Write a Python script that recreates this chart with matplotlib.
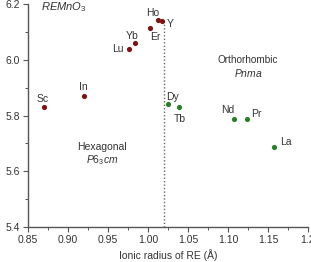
import matplotlib
matplotlib.use("Agg")
import matplotlib.pyplot as plt
from matplotlib.ticker import MultipleLocator

plt.rcParams['font.family'] = ['Liberation Sans', 'DejaVu Sans']
plt.rcParams['mathtext.fontset'] = 'custom'
plt.rcParams['mathtext.rm'] = 'Liberation Sans'
plt.rcParams['mathtext.it'] = 'Liberation Sans:italic'

hex_names = ["Sc", "In", "Lu", "Yb", "Er", "Ho", "Y"]
hex_r = [0.870, 0.920, 0.976, 0.984, 1.003, 1.013, 1.018]
hex_c = [5.830, 5.869, 6.039, 6.059, 6.113, 6.143, 6.140]

ort_names = ["Dy", "Tb", "Nd", "Pr", "La"]
ort_r = [1.025, 1.039, 1.107, 1.124, 1.158]
ort_c = [5.843, 5.832, 5.789, 5.788, 5.686]

boundary_r = 1.020

# label offsets in pixels (dx, dy)
offsets = {"Sc": (-1, 8), "In": (-1, 9), "Lu": (-11, 0), "Yb": (-3, 7), "Er": (5, -9),
           "Ho": (-6, 7), "Y": (8, -3), "Dy": (5, 7), "Tb": (1, -12), "Nd": (-6, 9),
           "Pr": (9, 5), "La": (11, 5)}

red = "#7b1414"
green = "#2a7d2a"
gray = "#555555"
txt = "#333333"

fig = plt.figure(figsize=(3.11, 2.62), dpi=100)
ax = fig.add_axes([28/311, 1-227/262, 280/311, 223/262])

ax.scatter(hex_r, hex_c, s=14, color=red, zorder=3, linewidths=0)
ax.scatter(ort_r, ort_c, s=14, color=green, zorder=3, linewidths=0)

for names, rs, cs in [(hex_names, hex_r, hex_c), (ort_names, ort_r, ort_c)]:
    for n, r, c in zip(names, rs, cs):
        dx, dy = offsets[n]
        ax.annotate(n, (r, c), xytext=(dx*0.72, dy*0.72), textcoords="offset points",
                    ha="center", va="center", fontsize=7.5, color=txt)

ax.plot([boundary_r, boundary_r], [5.4, 6.14], linestyle=(0, (1, 1.5)), color="#666666", lw=1.0, zorder=1)

ax.text(0.866, 6.19, r"$REMnO_3$", fontsize=8, color=txt, ha="left", va="center")
ax.text(0.943, 5.687, "Hexagonal", fontsize=7.5, color=txt, ha="center", va="center")
ax.text(0.943, 5.640, r"$P6_3cm$", fontsize=7.5, color=txt, ha="center", va="center")
ax.text(1.125, 5.999, "Orthorhombic", fontsize=7.2, color=txt, ha="center", va="center")
ax.text(1.125, 5.953, r"$Pnma$", fontsize=7.5, color=txt, ha="center", va="center")

ax.set_xlim(0.85, 1.2)
ax.set_ylim(5.4, 6.2)
ax.xaxis.set_minor_locator(MultipleLocator(0.025))
ax.yaxis.set_minor_locator(MultipleLocator(0.1))
ax.set_xticks([0.85, 0.90, 0.95, 1.00, 1.05, 1.10, 1.15, 1.2])
ax.set_xticklabels(["0.85", "0.90", "0.95", "1.00", "1.05", "1.10", "1.15", "1.2"])
ax.set_yticks([5.4, 5.6, 5.8, 6.0, 6.2])
ax.set_yticklabels(["5.4", "5.6", "5.8", "6.0", "6.2"])

for s in ["top", "right"]:
    ax.spines[s].set_visible(False)
for s in ["left", "bottom"]:
    ax.spines[s].set_color(gray)
    ax.spines[s].set_linewidth(1.0)
ax.tick_params(which="major", length=3.5, width=0.8, color=gray, labelsize=7.5, labelcolor=txt, pad=2)
ax.tick_params(which="minor", length=2, width=0.7, color=gray)
ax.set_xlabel("Ionic radius of RE (Å)", fontsize=7.5, color=txt, labelpad=3)
ax.set_ylabel("c (Å)", fontsize=7.5, color=txt, labelpad=6)

fig.savefig("out.png", dpi=100)
